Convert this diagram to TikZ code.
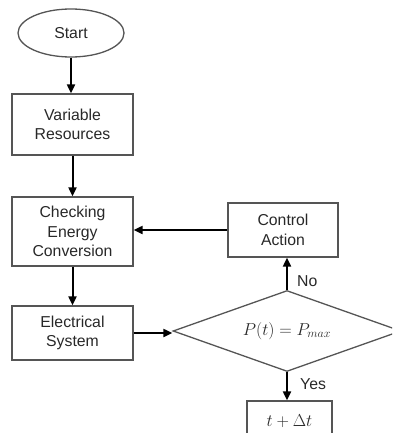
\documentclass[tikz,border=0pt]{standalone}
\usepackage{fontspec}
\setmainfont{Liberation Sans}
\usetikzlibrary{shapes.geometric,arrows.meta}
\definecolor{boxgray}{RGB}{85,85,85}
\definecolor{textgray}{RGB}{40,40,40}
\tikzset{
  block/.style={draw=boxgray,rectangle,line width=1.3pt,align=center,text=textgray,
    minimum width=121pt,inner sep=0pt,font=\fontsize{15.8}{19.5}\selectfont},
  startbox/.style={draw=boxgray,ellipse,line width=1.3pt,text=textgray,inner sep=0pt,
    minimum width=106pt,minimum height=48pt,font=\fontsize{15.8}{19.5}\selectfont},
  decision/.style={draw=boxgray,diamond,aspect=2.8,line width=1.3pt,text=textgray,inner sep=0pt,
    minimum width=228pt,minimum height=81pt,font=\fontsize{16.5}{18}\selectfont},
  flow/.style={-{Triangle[length=9pt,width=8pt]},line width=2pt},
  answer/.style={text=textgray,font=\fontsize{15.8}{16}\selectfont,anchor=west,inner sep=0pt}
}

\begin{document}
\begin{tikzpicture}[x=1pt,y=-1pt]
        \useasboundingbox (0,0) rectangle (392,433);
        \clip (0,0) rectangle (392,433);

        \coordinate (v1) at (71,33);
        \coordinate (v2) at (72.5,124.5);
        \coordinate (v3) at (72.5,231.5);
        \coordinate (v4) at (72.5,333);
        \coordinate (v5) at (283,230);
        \coordinate (v6) at (287,331);
        \coordinate (v7) at (289.5,421);

        \node[startbox] (start) at (v1) {Start};
        \node[block,minimum height=61pt] (resources) at (v2) {Variable\\Resources};
        \node[block,minimum height=69pt] (checking) at (v3) {Checking\\Energy\\Conversion};
        \node[block,minimum height=54pt] (electrical) at (v4) {Electrical\\System};
        \node[block,minimum width=110pt,minimum height=54pt] (control) at (v5) {Control\\Action};
        \node[decision] (test) at (v6) {$P(t) = P_{max}$};
        \node[block,minimum width=85pt,minimum height=40pt,font=\fontsize{16.5}{18}\selectfont] (step) at (v7) {$t + \Delta t$};

        \draw[flow] (start) -- (start |- resources.north);
        \draw[flow] (resources) -- (checking);
        \draw[flow] (checking) -- (electrical);
        \draw[flow] (electrical.east) -- (electrical.east -| test.west);
        \draw[flow] (test.north) -- (test.north |- control.south);
        \draw[flow] (control.west) -- (control.west -| checking.east);
        \draw[flow] (test.south) -- (test.south |- step.north);

        \node[answer] (no) at (297,281) {No};
        \node[answer] (yes) at (300,384) {Yes};
    \end{tikzpicture}
\end{document}
